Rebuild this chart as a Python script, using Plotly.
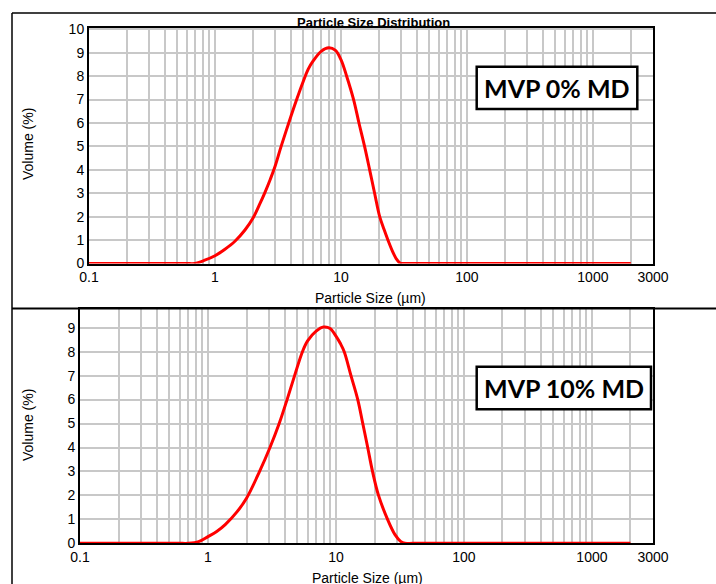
import plotly.graph_objects as go

# ---- data ----
size_top = [0.1, 0.3, 0.5, 0.6, 0.69, 0.83, 1.0, 1.2, 1.44, 1.73, 2.0, 2.25, 2.5, 2.75, 3.0, 3.35,
            3.85, 4.45, 5.0, 5.5, 6.0, 7.0, 8.0, 9.0, 10.0, 11.1, 12.6, 13.9, 15.4, 16.9, 18.5,
            20.3, 22.0, 23.8, 26.0, 27.5, 29.4, 31.0, 40.0, 100, 500, 2000]
vol_top = [0, 0, 0, 0, 0, 0.14, 0.33, 0.61, 0.95, 1.43, 1.93, 2.5, 3.05, 3.6, 4.15, 5.0,
           6.0, 7.0, 7.75, 8.3, 8.64, 9.07, 9.21, 9.11, 8.71, 8.0, 7.0, 6.0, 5.0, 4.0, 3.0,
           2.0, 1.45, 0.95, 0.45, 0.2, 0.02, 0, 0, 0, 0, 0]

size_bot = [0.1, 0.3, 0.5, 0.6, 0.70, 0.845, 1.0, 1.17, 1.37, 1.69, 2.0, 2.53, 3.05, 3.6, 4.15,
            4.75, 5.47, 6.0, 7.0, 8.0, 9.0, 10.0, 10.8, 11.6, 13.1, 14.8, 16.2, 17.7, 19.3, 21.5,
            25.3, 29.0, 32.0, 34.5, 40.0, 100, 500, 2000]
vol_bot = [0, 0, 0, 0, 0, 0.07, 0.28, 0.49, 0.79, 1.32, 1.88, 3.0, 4.0, 5.0, 6.0,
           7.0, 8.0, 8.45, 8.86, 9.03, 8.97, 8.65, 8.35, 8.0, 7.0, 6.0, 5.0, 4.0, 3.0, 2.0,
           1.0, 0.35, 0.08, 0, 0, 0, 0, 0]

labeled_ticks = [0.1, 1, 10, 100, 1000, 3000]
tick_text = ["0.1", "1", "10", "100", "1000", "3000"]
panel_labels = ["MVP 0% MD", "MVP 10% MD"]
chart_title = "Particle Size Distribution"
x_title = "Particle Size (µm)"
y_title = "Volume (%)"

W, H = 716, 584
def px(x):
    return x / W
def py(y):
    return 1 - y / H

grid_vals = [m * 10 ** e for e in range(-1, 4) for m in range(1, 10) if m * 10 ** e <= 2000] + [3000]
grid_text = [tick_text[labeled_ticks.index(v)] if v in labeled_ticks else "" for v in grid_vals]

TICKFONT = dict(family="Liberation Sans", size=14, color="black")

fig = go.Figure()
fig.add_trace(go.Scatter(x=size_top, y=vol_top, mode="lines", xaxis="x", yaxis="y",
                         line=dict(color="#ff0000", width=3, shape="spline", smoothing=1.0),
                         showlegend=False, hoverinfo="skip"))
fig.add_trace(go.Scatter(x=size_bot, y=vol_bot, mode="lines", xaxis="x2", yaxis="y2",
                         line=dict(color="#ff0000", width=3, shape="spline", smoothing=1.0),
                         showlegend=False, hoverinfo="skip"))

common_x = dict(type="log", range=[-1, 3.4771], tickmode="array", tickvals=grid_vals, ticktext=grid_text,
                showgrid=True, gridcolor="#c8c8c8", gridwidth=1.5, showline=True, mirror=True,
                linecolor="black", linewidth=2, ticks="", tickfont=TICKFONT, zeroline=False,
                automargin=False)
common_y = dict(showgrid=True, gridcolor="#c8c8c8", gridwidth=1.5, showline=True, mirror=True,
                linecolor="black", linewidth=2, ticks="", tickfont=TICKFONT, zeroline=False,
                tickmode="linear", tick0=0, dtick=1, automargin=False)

fig.update_layout(
    width=W, height=H, margin=dict(l=0, r=0, t=0, b=0, pad=0, autoexpand=False),
    paper_bgcolor="white", plot_bgcolor="white",
    xaxis=dict(domain=[px(89), px(653)], anchor="y", **common_x),
    yaxis=dict(domain=[py(263.5), py(27.7)], anchor="x", range=[0, 10.07], **common_y),
    xaxis2=dict(domain=[px(80), px(653)], anchor="y2", **common_x),
    yaxis2=dict(domain=[py(543.3), py(309.3)], anchor="x2", range=[0, 9.77], **common_y),
)

shapes = [
    dict(type="line", xref="paper", yref="paper", x0=px(12), x1=1, y0=py(13), y1=py(13),
         line=dict(color="black", width=1.5)),
    dict(type="line", xref="paper", yref="paper", x0=px(12), x1=px(12), y0=py(13), y1=0,
         line=dict(color="black", width=1.5)),
    dict(type="line", xref="paper", yref="paper", x0=px(12), x1=1, y0=py(308.5), y1=py(308.5),
         line=dict(color="black", width=2)),
    dict(type="rect", xref="paper", yref="paper", x0=px(476.7), x1=px(637.3), y0=py(109), y1=py(66.7),
         fillcolor="white", line=dict(color="black", width=2.5)),
    dict(type="rect", xref="paper", yref="paper", x0=px(476.7), x1=px(651), y0=py(409.3), y1=py(366.7),
         fillcolor="white", line=dict(color="black", width=2.5)),
]
fig.update_layout(shapes=shapes)

LAB = dict(family="Liberation Sans", size=14, color="black")
def ann(text, x, y, font, angle=0):
    return dict(text=text, x=px(x), y=py(y), xref="paper", yref="paper", showarrow=False,
                xanchor="center", yanchor="middle", font=font, textangle=angle)

annotations = [
    ann(f"<b>{chart_title}</b>", 373, 22.5, dict(family="Liberation Sans", size=13, color="black")),
    ann(x_title, 370, 298, LAB),
    ann(x_title, 367, 578, LAB),
    ann(y_title, 28, 144, LAB, -90),
    ann(y_title, 28, 425, LAB, -90),
    ann(f"<b>{panel_labels[0]}</b>", 557, 88, dict(family="Lato", size=25, color="black")),
    ann(f"<b>{panel_labels[1]}</b>", 563.8, 388, dict(family="Lato", size=25, color="black")),
]
fig.update_layout(annotations=annotations)

fig.write_html("out.html", config={"displayModeBar": False},
               post_script="document.body.style.margin='0';document.body.style.overflow='hidden';")
